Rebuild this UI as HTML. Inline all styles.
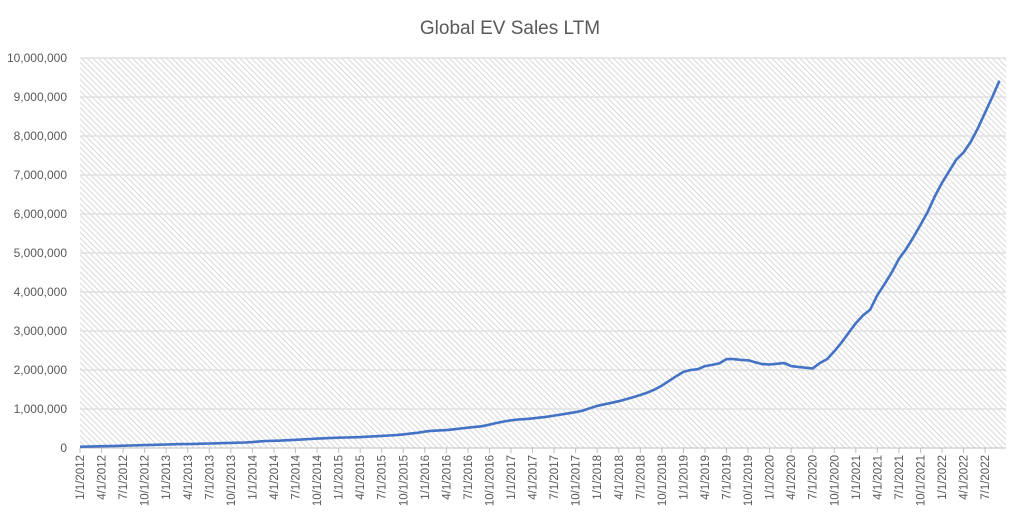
<!DOCTYPE html>
<html><head><meta charset="utf-8"><style>
body{margin:0;background:#fff;font-family:"Liberation Sans",sans-serif}
</style></head><body>
<svg id="chart" width="1021" height="520" xmlns="http://www.w3.org/2000/svg">
<defs>
<pattern id="hatch" width="4" height="4" patternUnits="userSpaceOnUse" patternTransform="rotate(-45)">
<rect width="4" height="4" fill="#ffffff"/>
<line x1="0" y1="0" x2="0" y2="4" stroke="#cfcfcf" stroke-width="1.6"/>
</pattern>
</defs>
<text x="510" y="34" text-anchor="middle" font-size="19" fill="#595959">Global EV Sales LTM</text>
<rect x="80" y="58" width="926" height="390" fill="url(#hatch)"/>
<g id="grid"></g><g id="yt"></g><g id="xt"></g>
<path id="line" fill="none" stroke="#4472C4" stroke-width="2.6" stroke-linejoin="round"/>
</svg>
<script>
const startYear = 2012;
const yTicks = [0,1,2,3,4,5,6,7,8,9,10];
const salesM = [
0.03,0.035,0.04,0.045,0.05,0.055,0.06,0.065,0.07,0.075,0.08,0.085,
0.09,0.095,0.1,0.1,0.105,0.11,0.115,0.12,0.125,0.13,0.135,0.14,
0.15,0.17,0.18,0.185,0.19,0.2,0.21,0.22,0.23,0.24,0.25,0.26,
0.265,0.27,0.275,0.28,0.29,0.3,0.31,0.32,0.33,0.35,0.37,0.39,
0.42,0.44,0.45,0.46,0.48,0.5,0.52,0.54,0.56,0.6,0.64,0.68,
0.71,0.73,0.74,0.76,0.78,0.8,0.83,0.86,0.89,0.92,0.96,1.02,
1.08,1.12,1.16,1.2,1.25,1.3,1.36,1.42,1.5,1.6,1.72,1.84,
1.95,2.0,2.02,2.1,2.13,2.17,2.28,2.28,2.26,2.25,2.2,2.15,
2.14,2.16,2.18,2.1,2.08,2.06,2.04,2.18,2.28,2.48,2.7,2.95,
3.2,3.4,3.55,3.92,4.2,4.5,4.85,5.1,5.4,5.72,6.05,6.45,
6.8,7.1,7.4,7.58,7.85,8.2,8.6,9.0,9.42];
const NS="http://www.w3.org/2000/svg";
const x0=80, mw=21.55/3, y0=448, ymax=10, ph=390;
const X=i=>x0+i*mw, Y=v=>y0-v/ymax*ph;
const grid=document.getElementById('grid'), yt=document.getElementById('yt'), xt=document.getElementById('xt');
yTicks.forEach(t=>{
 const l=document.createElementNS(NS,'line');
 
 
 l.setAttribute('x1',80);l.setAttribute('x2',1006);l.setAttribute('y1',Y(t));l.setAttribute('y2',Y(t));
 l.setAttribute('stroke',t===0?'#bfbfbf':'#e0e0e0');l.setAttribute('stroke-width',t===0?1:1.5);
 grid.appendChild(l);
 const tx=document.createElementNS(NS,'text');
 
 
 tx.setAttribute('x',67);tx.setAttribute('y',Y(t)+4);tx.setAttribute('text-anchor','end');
 tx.setAttribute('font-size','12');tx.setAttribute('fill','#595959');
 tx.textContent=(t*1000000).toLocaleString('en-US');
 yt.appendChild(tx);
});
for(let q=0;q*3<salesM.length;q++){
 const m=q*3, x=X(m);
 const mon=(m%12)+1, yr=startYear+Math.floor(m/12);
 const tk=document.createElementNS(NS,'line');
 
 
 tk.setAttribute('x1',x);tk.setAttribute('x2',x);tk.setAttribute('y1',448);tk.setAttribute('y2',453);
 tk.setAttribute('stroke','#bfbfbf');xt.appendChild(tk);
 const tx=document.createElementNS(NS,'text');
 
 
 tx.setAttribute('transform',`translate(${x+4},455) rotate(-90)`);
 tx.setAttribute('text-anchor','end');tx.setAttribute('font-size','11.5');tx.setAttribute('fill','#595959');
 tx.textContent=`${mon}/1/${yr}`;
 xt.appendChild(tx);
}
document.getElementById('line').setAttribute('d',salesM.map((v,i)=>(i?'L':'M')+X(i).toFixed(1)+','+Y(v).toFixed(1)).join(''));
</script>
</body></html>
